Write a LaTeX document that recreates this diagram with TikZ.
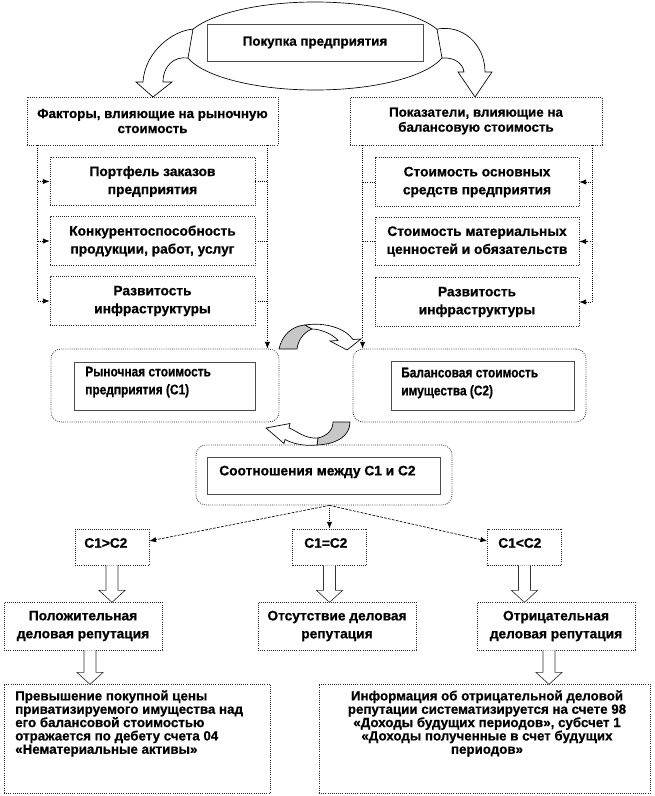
\documentclass[tikz,border=0pt]{standalone}
\usepackage{fontspec}
\setmainfont{Liberation Sans}[BoldFeatures={FakeBold=0.6}]
\newfontfamily\narrowf{Liberation Sans}[FakeStretch=0.85, BoldFeatures={FakeBold=0.6}]
\usetikzlibrary{arrows.meta,shapes.geometric}
\newcommand\myfs{\fontsize{10.3}{13.5}\selectfont\bfseries}
\newcommand\myfh{\fontsize{10}{11.25}\selectfont\bfseries}
\newcommand\myfb{\fontsize{10}{10}\selectfont\bfseries}
\newcommand\myfn{\narrowf\fontsize{10.5}{13.5}\selectfont\bfseries}
\newcommand\myfc{\fontsize{10.3}{12}\selectfont\bfseries}
\newcommand\holarrow[2]{\draw[hol] (#1) ++(-6,0) -- ++(0,#2) -- ++(-7,0) -- ++(13,12) -- ++(13,-12) -- ++(-7,0) -- ++(0,-#2);}
\begin{document}
\begin{tikzpicture}[x=0.75pt,y=-0.75pt,
  >={Latex[length=5pt,width=4pt]},
  bx/.style={draw=black!85, densely dotted, line width=0.6pt, fill=white, align=center, inner sep=0pt, font=\myfs},
  hb/.style={bx, font=\myfh},
  ib/.style={draw=black!70, line width=0.7pt, fill=white, inner sep=0pt},
  rb/.style={draw=black!85, densely dotted, line width=0.6pt, rounded corners=7.5pt, fill=white, inner sep=0pt},
  txt/.style={inner sep=0pt, font=\myfs, align=left, anchor=west},
  dl/.style={densely dotted, line width=0.6pt},
  dsh/.style={dash pattern=on 2pt off 1pt, line width=0.5pt},
  barrow/.style={draw=black, line width=0.5pt, fill=white},
  garrow/.style={draw=black, line width=0.5pt, fill=black!22},
  hol/.style={draw=black!80, line width=0.5pt, fill=white}
]
\useasboundingbox (0,0) rectangle (654,796);
% top
\node[draw=black, line width=0.5pt, ellipse, minimum width=198pt, minimum height=66pt, inner sep=0pt] (ell) at (315,46) {};
\node[ib, minimum width=162pt, minimum height=27.75pt, font=\myfh] (pok) at (315,42.5) {Покупка предприятия};
% factor boxes
\node[hb, minimum width=188.25pt, minimum height=36pt] (fL) at (152.5,121) {Факторы, влияющие на рыночную\\стоимость};
\node[hb, minimum width=189pt, minimum height=36pt] (fR) at (476,121) {Показатели, влияющие на\\балансовую стоимость};
\node[bx, minimum width=153.75pt, minimum height=36.5pt] (sL1) at (152.5,181.5) {Портфель заказов\\предприятия};
\node[bx, minimum width=153.75pt, minimum height=36.5pt] (sL2) at (152.5,241) {Конкурентоспособность\\продукции, работ, услуг};
\node[bx, minimum width=153.75pt, minimum height=36.5pt] (sL3) at (152.5,301) {Развитость\\инфраструктуры};
\node[bx, minimum width=153pt, minimum height=36.5pt] (sR1) at (477,182) {Стоимость основных\\средств предприятия};
\node[bx, minimum width=153pt, minimum height=36.5pt] (sR2) at (477,241.5) {Стоимость материальных\\ценностей и обязательств};
\node[bx, minimum width=153pt, minimum height=36.5pt] (sR3) at (477,302) {Развитость\\инфраструктуры};
% C boxes
\node[rb, minimum width=171pt, minimum height=54.75pt] (C1o) at (165,385.5) {};
\node[ib, minimum width=135.75pt, minimum height=36pt] (C1i) at (164.5,386) {};
\node[txt, font=\myfn] (C1t) at (85,382) {Рыночная стоимость\\предприятия (С1)};
\node[rb, minimum width=174.75pt, minimum height=54.75pt] (C2o) at (469.5,385.5) {};
\node[ib, minimum width=137.25pt, minimum height=36.75pt] (C2i) at (482.5,385.5) {};
\node[txt, font=\myfn] (C2t) at (401,383) {Балансовая стоимость\\имущества (С2)};
\node[rb, minimum width=192pt, minimum height=45pt] (So) at (324,475) {};
\node[ib, minimum width=174.75pt, minimum height=27.75pt] (Si) at (323.5,475.5) {};
\node[txt, font=\myfc] (St) at (219,472) {Соотношения между С1 и С2};
% small boxes
\node[bx, minimum width=55.5pt, minimum height=27pt] (Cg) at (112,547) {};
\node[txt, font=\myfc] (Cgt) at (84,543) {С1>С2};
\node[bx, minimum width=55.5pt, minimum height=27pt] (Ce) at (329.5,547) {};
\node[txt, font=\myfc] (Cet) at (304,543) {С1=С2};
\node[bx, minimum width=55.5pt, minimum height=27pt] (Cl) at (524.5,547) {};
\node[txt, font=\myfc] (Clt) at (498,543) {С1<С2};
% reputation
\node[bx, minimum width=118.5pt, minimum height=36pt] (R1) at (83,626) {Положительная\\деловая репутация};
\node[bx, minimum width=118.5pt, minimum height=36pt] (R2) at (337,626) {Отсутствие деловая\\репутация};
\node[bx, minimum width=118.5pt, minimum height=36pt] (R3) at (556,626) {Отрицательная\\деловая репутация};
% bottom
\node[bx, minimum width=199.5pt, minimum height=81.75pt] (B1) at (137,738.5) {};
\node[txt, font=\myfb] (B1t) at (15,723.5) {Превышение покупной цены\\приватизируемого имущества над\\его балансовой стоимостью\\отражается по дебету счета 04\\«Нематериальные активы»};
\node[bx, minimum width=248.25pt, minimum height=81.75pt] (B2) at (484.5,738.5) {};
\node[inner sep=0pt, font=\myfb, align=center] (B2t) at (487,723.5) {Информация об отрицательной деловой\\репутации систематизируется на счете 98\\«Доходы будущих периодов», субсчет 1\\«Доходы полученные в счет будущих\\периодов»};
% big curved arrows
\draw[barrow] (193,29.2) .. controls (175,30) and (145,50) .. (143,82) -- (136,82) -- (153,97) -- (172,82) -- (163,82) .. controls (163,66) and (174,56) .. (188,58) -- cycle;
\draw[barrow] (437,29.2) .. controls (462,24) and (485,44) .. (485,72) -- (492,72) -- (475,97) -- (458,72) -- (464,72) .. controls (463,64) and (455,57) .. (442,58) -- cycle;
% connectors left group
\coordinate (ll) at ([xshift=8.25pt]fL.south west);
\draw[dl,->] (ll) |- (sL1.west);
\draw[dl,->] (ll) |- (sL2.west);
\draw[dl,->] (ll) |- (sL3.west);
\coordinate (lr) at ([xshift=-8.25pt]fL.south east);
\draw[dl,->] (lr) -- (lr |- C1o.north);
\draw[dl] (sL1.east) -- (sL1.east -| lr);
\draw[dl] (sL2.east) -- (sL2.east -| lr);
\draw[dl] (sL3.east) -- (sL3.east -| lr);
% connectors right group
\coordinate (rr) at ([xshift=-7.5pt]fR.south east);
\draw[dl,->] (rr) |- (sR1.east);
\draw[dl,->] (rr) |- (sR2.east);
\draw[dl,->] (rr) |- (sR3.east);
\coordinate (rl) at ([xshift=9.75pt]fR.south west);
\draw[dl,->] (rl) -- (rl |- C2o.north);
\draw[dl] (sR1.west) -- (sR1.west -| rl);
\draw[dl] (sR2.west) -- (sR2.west -| rl);
% middle curved arrows
\draw[garrow] (279,349) .. controls (282,335) and (292,326) .. (305,325) -- (312,329) .. controls (304,332) and (298,340) .. (297,349) -- cycle;
\draw[barrow] (305,325) .. controls (325,322) and (345,328) .. (353,339.5) -- (361,339) -- (347,350) -- (330,341) -- (338,340.5) .. controls (333,334) and (320,329) .. (312,329) -- cycle;
\draw[garrow] (333,422) .. controls (333,430) and (327,436) .. (318,438) -- (317,445) .. controls (337,444) and (350,436) .. (350,422) -- cycle;
\draw[barrow] (318,438) .. controls (305,439) and (297,431) .. (289,428) -- (290,423.5) -- (266,428) -- (284,443.5) -- (285,439.5) .. controls (295,445) and (308,446) .. (317,445) -- cycle;
% relations
\coordinate (sb) at (So.south -| Ce.north);
\draw[dsh,->] (sb) -- ([yshift=4.5pt]Cg.east);
\draw[dl,->] (sb) -- (Ce.north);
\draw[dsh,->] (sb) -- ([yshift=4.5pt]Cl.west);
% hollow arrows
\holarrow{Cg.south}{25}
\holarrow{Ce.south}{25}
\holarrow{Cl.south}{25}
\holarrow{[xshift=5.25pt]R1.south}{22}
\holarrow{[xshift=-5.25pt]R3.south}{22}
\end{tikzpicture}
\end{document}
